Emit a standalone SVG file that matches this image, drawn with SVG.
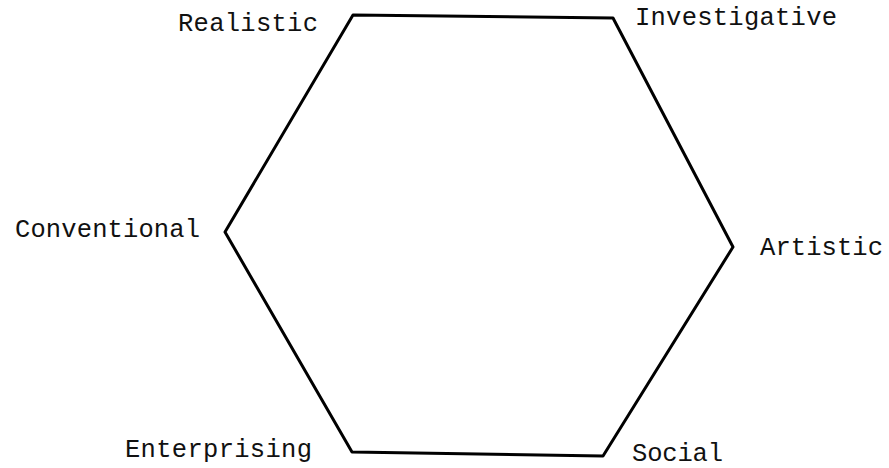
<svg xmlns="http://www.w3.org/2000/svg" width="889" height="468" viewBox="0 0 889 468">
<style>
.lbl{font-family:"Liberation Mono","Courier New",monospace;font-size:25.5px;fill:#111}
.edge{fill:none;stroke:#000;stroke-width:3;stroke-linejoin:round}
</style>
<rect width="889" height="468" fill="#fff"/>
<g id="connectors">
<polygon class="edge" points="353,15 613,18 733,247 603,456 352,452 225,232"/>
</g>
<g id="realistic"><text class="lbl" x="178" y="31" textLength="140">Realistic</text></g>
<g id="investigative"><text class="lbl" x="635" y="25" textLength="202">Investigative</text></g>
<g id="conventional"><text class="lbl" x="15" y="237" textLength="185">Conventional</text></g>
<g id="artistic"><text class="lbl" x="760" y="255" textLength="123">Artistic</text></g>
<g id="enterprising"><text class="lbl" x="125" y="457" textLength="187">Enterprising</text></g>
<g id="social"><text class="lbl" x="632" y="461" textLength="91">Social</text></g>
</svg>
